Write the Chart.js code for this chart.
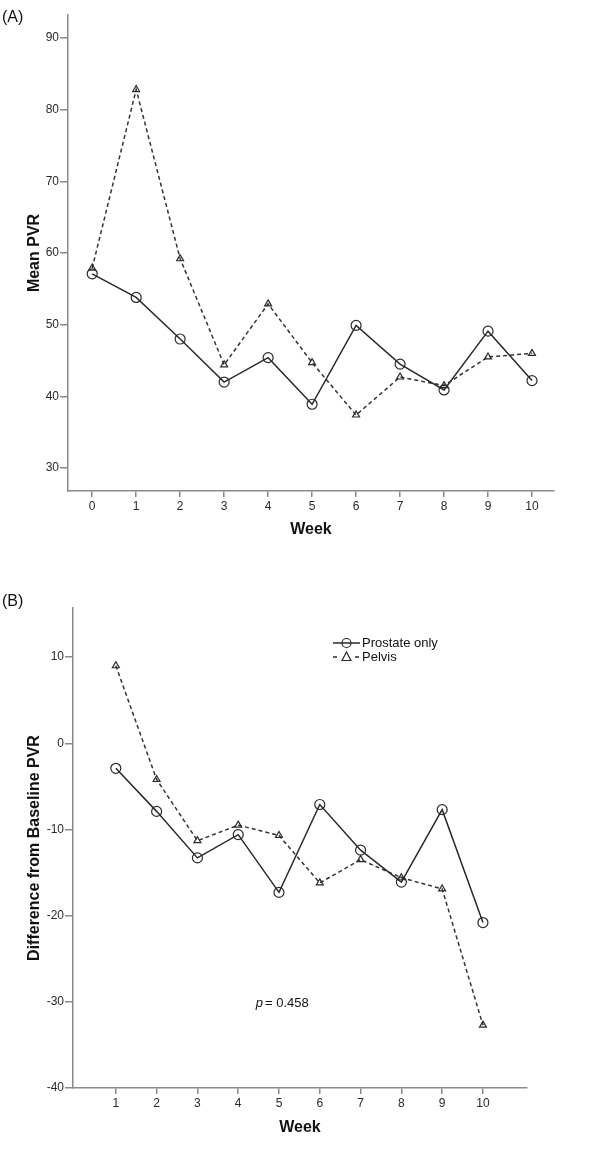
<!DOCTYPE html>
<html>
<head>
<meta charset="utf-8">
<script src="https://cdn.jsdelivr.net/npm/chart.js@4.4.0/dist/chart.umd.min.js"></script>
<style>
  body { margin: 0; background: #fff; }
  canvas { display: block; }
</style>
</head>
<body>
<canvas id="chart-a" width="600" height="560"></canvas>
<canvas id="chart-b" width="600" height="597"></canvas>
<script>
// Panel A: mean PVR by week
const weeksA = [0, 1, 2, 3, 4, 5, 6, 7, 8, 9, 10];
const prostateMean = [57.1, 53.8, 48.0, 42.0, 45.4, 38.9, 49.9, 44.5, 40.9, 49.1, 42.2];
const pelvisMean = [57.9, 82.8, 59.2, 44.4, 52.9, 44.7, 37.4, 42.7, 41.5, 45.5, 46.0];
const yTicksA = [30, 40, 50, 60, 70, 80, 90];

// Panel B: difference from baseline
const weeksB = [1, 2, 3, 4, 5, 6, 7, 8, 9, 10];
const prostateDiff = [-2.9, -7.9, -13.3, -10.6, -17.3, -7.1, -12.4, -16.1, -7.7, -20.8];
const pelvisDiff = [9.0, -4.2, -11.3, -9.5, -10.7, -16.2, -13.5, -15.6, -16.9, -32.7];
const yTicksB = [-40, -30, -20, -10, 0, 10];

const seriesNames = ['Prostate only', 'Pelvis'];
const pValueText = '0.458';

const FONT = "'Liberation Sans', Arial, sans-serif";
const AXIS_GREY = '#8a8a8a';
const INK = '#2a2a2a';

Chart.defaults.font.family = FONT;
Chart.defaults.color = INK;

function toPoints(xs, ys) {
  return xs.map((x, i) => ({ x: x, y: ys[i] }));
}

function makeDatasets(xs, prostate, pelvis) {
  return [
    {
      label: seriesNames[0],
      data: toPoints(xs, prostate),
      borderColor: INK,
      borderWidth: 1.5,
      pointStyle: 'circle',
      pointRadius: 5,
      pointBorderWidth: 1.2,
      pointBorderColor: INK,
      pointBackgroundColor: 'rgba(0,0,0,0)',
      tension: 0,
      clip: false
    },
    {
      label: seriesNames[1],
      data: toPoints(xs, pelvis),
      borderColor: '#333',
      borderWidth: 1.5,
      borderDash: [4, 3],
      pointStyle: 'triangle',
      pointRadius: 4,
      pointBorderWidth: 1.2,
      pointBorderColor: INK,
      pointBackgroundColor: 'rgba(0,0,0,0)',
      tension: 0,
      clip: false
    }
  ];
}

// panel letters, legend and p value
const decorations = {
  id: 'decorations',
  afterDraw(chart, args, opts) {
    const ctx = chart.ctx;
    const area = chart.chartArea;
    ctx.save();
    ctx.fillStyle = '#111';
    ctx.font = '16px ' + FONT;
    ctx.textBaseline = 'middle';
    ctx.textAlign = 'left';
    ctx.fillText(opts.panel, 2, opts.panelY);

    if (opts.legend) {
      const lx = area.left + 260;
      const ly = area.top + 35;
      const ds = chart.data.datasets;
      ctx.font = '13px ' + FONT;
      ctx.fillStyle = '#111';
      // prostate row: solid line with circle
      ctx.strokeStyle = ds[0].borderColor;
      ctx.lineWidth = 1.5;
      ctx.beginPath();
      ctx.moveTo(lx, ly);
      ctx.lineTo(lx + 27, ly);
      ctx.stroke();
      ctx.lineWidth = 1.2;
      ctx.beginPath();
      ctx.arc(lx + 13.5, ly, 4.5, 0, Math.PI * 2);
      ctx.stroke();
      ctx.fillText(ds[0].label, lx + 29, ly);
      // pelvis row: dashes with triangle
      const ly2 = ly + 14;
      ctx.lineWidth = 1.5;
      ctx.beginPath();
      ctx.moveTo(lx, ly2); ctx.lineTo(lx + 4, ly2);
      ctx.moveTo(lx + 22, ly2); ctx.lineTo(lx + 26, ly2);
      ctx.stroke();
      ctx.lineWidth = 1.2;
      ctx.beginPath();
      ctx.moveTo(lx + 13.5, ly2 - 5);
      ctx.lineTo(lx + 18, ly2 + 3.5);
      ctx.lineTo(lx + 9, ly2 + 3.5);
      ctx.closePath();
      ctx.stroke();
      ctx.fillText(ds[1].label, lx + 29, ly2);
    }

    if (opts.pValue) {
      const px = chart.scales.x.getPixelForValue(opts.pValue.x);
      const py = chart.scales.y.getPixelForValue(opts.pValue.y);
      ctx.textAlign = 'left';
      ctx.font = 'italic 13px ' + FONT;
      const pW = ctx.measureText('p').width;
      ctx.font = '13px ' + FONT;
      const rest = '= ' + pValueText;
      const total = pW + ctx.measureText(rest).width + 2;
      let x0 = px - total / 2;
      ctx.font = 'italic 13px ' + FONT;
      ctx.fillText('p', x0, py);
      ctx.font = '13px ' + FONT;
      ctx.fillText(rest, x0 + pW + 2, py);
    }
    ctx.restore();
  }
};

function makeScales(opt) {
  return {
    x: {
      type: 'linear',
      min: opt.xMin,
      max: opt.xMax,
      afterBuildTicks: (s) => { s.ticks = opt.xTicks.map(v => ({ value: v })); },
      afterFit: (s) => { s.height = opt.xHeight; },
      grid: { drawOnChartArea: false, drawTicks: true, tickLength: 6, color: AXIS_GREY, lineWidth: 1.5 },
      border: { color: AXIS_GREY, width: 1.5 },
      ticks: { font: { size: 12 }, color: INK, padding: 2, maxRotation: 0, autoSkip: false },
      title: {
        display: true, text: 'Week', color: '#111',
        font: { size: 16, weight: 'bold' },
        padding: { top: 0, bottom: opt.xTitlePad }
      }
    },
    y: {
      type: 'linear',
      min: opt.yMin,
      max: opt.yMax,
      afterBuildTicks: (s) => { s.ticks = opt.yTicks.map(v => ({ value: v })); },
      afterFit: (s) => { s.width = opt.yWidth; },
      grid: { drawOnChartArea: false, drawTicks: true, tickLength: 8, color: AXIS_GREY, lineWidth: 1.5 },
      border: { color: AXIS_GREY, width: 1.5 },
      ticks: { font: { size: 12 }, color: INK, padding: 1, autoSkip: false },
      title: {
        display: true, text: opt.yTitle, color: '#111',
        font: { size: 16, weight: 'bold' },
        padding: { top: 25.4, bottom: 0 }
      }
    }
  };
}

const chartA = new Chart(document.getElementById('chart-a'), {
  type: 'line',
  data: { datasets: makeDatasets(weeksA, prostateMean, pelvisMean) },
  options: {
    responsive: false,
    animation: false,
    layout: { padding: { top: 15, right: 46, bottom: 0, left: 0 } },
    plugins: {
      legend: { display: false },
      tooltip: { enabled: false },
      decorations: { panel: '(A)', panelY: 18 }
    },
    scales: makeScales({
      xMin: -0.55, xMax: 10.5, xTicks: weeksA, xHeight: 69, xTitlePad: 20.4,
      yMin: 26.8, yMax: 93.2, yTicks: yTicksA, yWidth: 68, yTitle: 'Mean PVR'
    })
  },
  plugins: [decorations]
});

const chartB = new Chart(document.getElementById('chart-b'), {
  type: 'line',
  data: { datasets: makeDatasets(weeksB, prostateDiff, pelvisDiff) },
  options: {
    responsive: false,
    animation: false,
    layout: { padding: { top: 48, right: 73, bottom: 0, left: 0 } },
    plugins: {
      legend: { display: false },
      tooltip: { enabled: false },
      decorations: { panel: '(B)', panelY: 42, legend: true, pValue: { x: 5.08, y: -30.2 } }
    },
    scales: makeScales({
      xMin: -0.05, xMax: 11.08, xTicks: weeksB, xHeight: 69, xTitlePad: 19.4,
      yMin: -40, yMax: 15.7, yTicks: yTicksB, yWidth: 73, yTitle: 'Difference from Baseline PVR'
    })
  },
  plugins: [decorations]
});
</script>
</body>
</html>
